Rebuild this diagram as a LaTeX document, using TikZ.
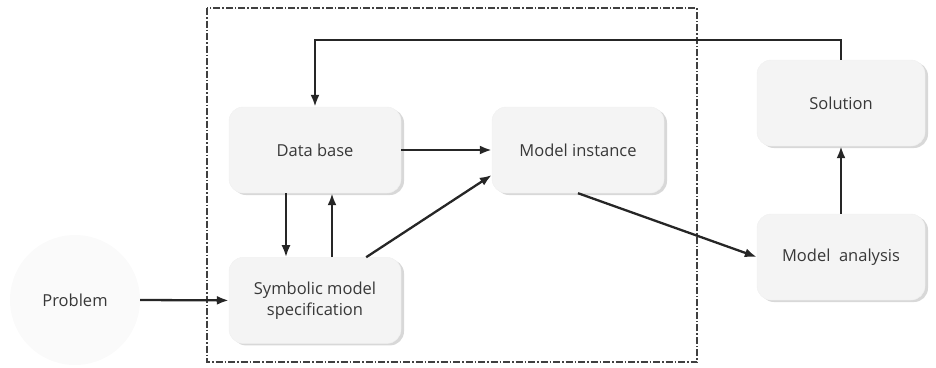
\documentclass[tikz,border=0pt]{standalone}
\usepackage{fontspec}
\setmainfont{Open Sans}
\usepackage{xcolor}
\usetikzlibrary{arrows.meta,shadows,positioning}

\definecolor{boxfill}{gray}{0.955}
\definecolor{textgray}{gray}{0.22}

\tikzset{
  stepbox/.style={rectangle, rounded corners=14pt, fill=boxfill, draw=gray!12,
    minimum width=172pt, minimum height=86pt, align=center,
    text=textgray, font=\fontsize{16.5}{21}\selectfont,
    drop shadow={shadow xshift=3pt, shadow yshift=-2pt, fill=gray!60}},
  flow/.style={-{Latex[length=12pt,width=9pt]}, line width=2.3pt, draw=black!85}
}

\begin{document}
\begin{tikzpicture}[x=1pt,y=-1pt]
\useasboundingbox (0,0) rectangle (936,367);

% frame round the modelling part
\draw[dash pattern=on 7pt off 2pt on 1.5pt off 2pt, line width=1.1pt, draw=black!75]
    (207,8) rectangle (697,362);

\node (prob) [circle, fill=gray!4, minimum size=130pt, text=textgray,
    font=\fontsize{16.5}{21}\selectfont] at (75,300) {Problem};

\node (db) [stepbox] at (315,150) {Data base};
\node (sym) [stepbox, below=64pt of db] {Symbolic model\\specification};
\node (mi) [stepbox] at (578,150) {Model instance};
\node (sol) [stepbox, minimum width=168pt] at (841,103) {Solution};
\node (ma) [stepbox, minimum width=168pt] at (841,257) {Model~ analysis};

\draw[flow] (prob.east) -- (sym.west);
\draw[flow] (db.east) -- (mi.west);
\draw[flow] ([xshift=-29pt]db.south) -- ([xshift=-29pt]sym.north);
\draw[flow] ([xshift=17pt]sym.north) -- ([xshift=17pt]db.south);
\draw[flow] ([xshift=-35pt]sym.north east) -- ([yshift=-25pt]mi.west);
\draw[flow] (mi.south) -- (ma.west);
\draw[flow] (ma.north) -- (sol.south);
\draw[flow] (sol.north) -- ++(0,-20) -| (db.north);
\end{tikzpicture}
\end{document}
